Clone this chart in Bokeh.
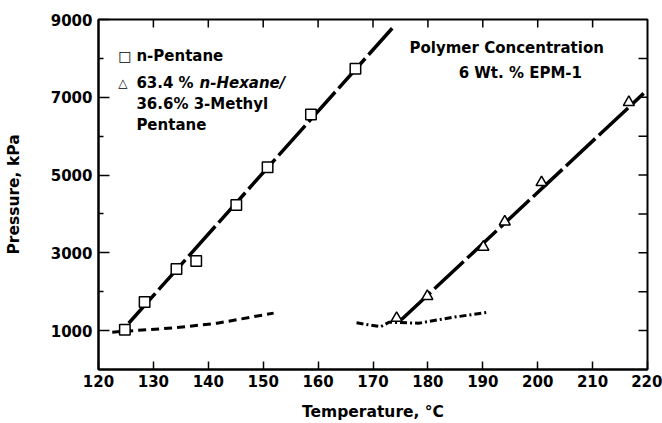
import math
from bokeh.plotting import figure
from bokeh.models import Range1d, FixedTicker, Label
from bokeh.embed import file_html
from bokeh.resources import INLINE

# ---- data ----
pentane_T = [124.8, 128.4, 134.2, 137.8, 145.1, 150.8, 158.7, 166.8]
pentane_P = [1025, 1735, 2585, 2790, 4230, 5200, 6560, 7735]
pentane_fit_T = [125.5, 173.5]
pentane_fit_P = [1190, 8775]
pentane_low_T = [122.5, 126.4, 133.7, 141.6, 151.9]
pentane_low_P = [960, 1000, 1070, 1190, 1450]

hexane_T = [174.3, 179.9, 190.1, 194.0, 200.7, 216.6]
hexane_P = [1320, 1883, 3150, 3800, 4810, 6870]
hexane_fit_T = [175.2, 219.3]
hexane_fit_P = [1285, 7100]
hexane_low_T = [167.0, 171.4, 172.9, 178.3, 184.7, 191.1]
hexane_low_P = [1200, 1100, 1215, 1190, 1345, 1475]

x_ticks = [120, 130, 140, 150, 160, 170, 180, 190, 200, 210, 220]
y_major = [1000, 3000, 5000, 7000, 9000]
y_minor = [2000, 4000, 6000, 8000]
top_ticks = [130, 140, 150, 160, 170, 180, 190, 200, 210]
right_ticks = [1000, 2000, 3000, 4000, 5000, 6000, 7000, 8000]

FONT = "DejaVu Sans"
X0, X1, Y0, Y1 = 120, 220, 0, 9000

p = figure(width=662, height=423, output_backend="svg", toolbar_location=None,
           x_range=Range1d(X0, X1), y_range=Range1d(Y0, Y1),
           min_border_left=98, min_border_right=15, min_border_top=19, min_border_bottom=54)
p.xgrid.visible = False
p.ygrid.visible = False
p.outline_line_color = "black"
p.outline_line_width = 2
p.background_fill_color = "white"
p.border_fill_color = "white"

def style(ax):
    ax.axis_line_color = "black"
    ax.axis_line_width = 2
    ax.major_tick_line_color = "black"
    ax.major_tick_line_width = 1.5
    ax.minor_tick_line_color = "black"
    ax.minor_tick_line_width = 1.5
    ax.major_tick_out = 0
    ax.minor_tick_out = 0
    ax.minor_tick_in = 5
    ax.major_label_text_font = FONT
    ax.major_label_text_font_style = "bold"
    ax.major_label_text_font_size = "15px"
    ax.major_label_text_color = "black"
    ax.axis_label_text_font = FONT
    ax.axis_label_text_font_style = "bold"
    ax.axis_label_text_font_size = "15.5px"
    ax.axis_label_text_color = "black"

xa = p.xaxis[0]
xa.ticker = FixedTicker(ticks=x_ticks)
style(xa)
xa.major_tick_in = 8
xa.major_label_standoff = 5
xa.axis_label = "Temperature, °C"
xa.axis_label_standoff = 13

ya = p.yaxis[0]
ya.ticker = FixedTicker(ticks=y_major, minor_ticks=y_minor)
style(ya)
ya.major_tick_in = 11
ya.major_label_standoff = 6
ya.axis_label = "Pressure, kPa"
ya.axis_label_standoff = 25

# inward ticks on the top and right frame edges
p.ray(x=top_ticks, y=[Y1] * len(top_ticks), length=8, length_units="screen",
      angle=-math.pi / 2, line_color="black", line_width=1.5)
p.ray(x=[X1] * len(right_ticks), y=right_ticks, length=9, length_units="screen",
      angle=math.pi, line_color="black", line_width=1.5)

# lines
p.line(pentane_fit_T, pentane_fit_P, line_color="black", line_width=3.5, line_dash="40 5")
p.line(hexane_fit_T, hexane_fit_P, line_color="black", line_width=3.5, line_dash="40 5")
p.line(pentane_low_T, pentane_low_P, line_color="black", line_width=3, line_dash="8 5")
p.line(hexane_low_T, hexane_low_P, line_color="black", line_width=3, line_dash="7 3 2 3")

# markers
p.scatter(pentane_T, pentane_P, marker="square", size=10.5, fill_color="white",
          line_color="black", line_width=1.5)
p.scatter(hexane_T, hexane_P, marker="triangle", size=11, fill_color="white",
          line_color="black", line_width=1.5)

def lab(x, y, text, size="15px", style="bold", font=FONT):
    p.add_layout(Label(x=x, y=y, text=text, text_font=font, text_font_style=style,
                       text_font_size=size, text_color="black", text_baseline="middle",
                       text_align="left"))

# legend
lab(123.6, 8074, "□", size="14px", style="normal")
lab(126.9, 8074, "n-Pentane")
lab(123.6, 7380, "△", size="12px", style="normal")
lab(126.9, 7380, "63.4 %")
lab(138.4, 7380, "n-Hexane/", style="bold italic")
lab(126.9, 6840, "36.6% 3-Methyl")
lab(126.9, 6300, "Pentane")

lab(176.65, 8280, "Polymer Concentration")
lab(185.6, 7637, "6 Wt. % EPM-1")

open("out.html", "w").write(file_html(p, INLINE))
